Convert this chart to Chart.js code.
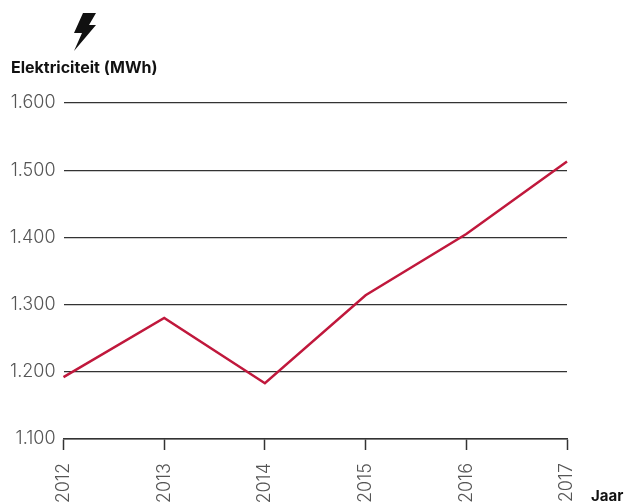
<!DOCTYPE html>
<html lang="nl">
<head>
<meta charset="utf-8">
<title>Elektriciteit</title>
<script src="https://cdn.jsdelivr.net/npm/chart.js@4/dist/chart.umd.min.js"></script>
<style>
html, body { margin: 0; padding: 0; background: #fff; overflow: hidden; }
#wrap { position: relative; width: 625px; height: 503px; }
canvas { position: absolute; left: 0; top: 0; }
.lbl { position: absolute; font: 700 15px Inter, sans-serif; color: #111; white-space: nowrap; }
#bolt { position: absolute; left: 73px; top: 12px; }
</style>
</head>
<body>
<div id="wrap">
    <canvas id="chart" width="625" height="503"></canvas>
    <svg id="bolt" width="25" height="40" viewBox="0 0 25 40">
        <path d="M10 1 L23 1 L16 13 L23 13 L1 39 L9 21 L1 21 Z" fill="#111"/>
    </svg>
    <div class="lbl" style="left:11px;top:57px;font-size:16px">Elektriciteit (MWh)</div>
    <div class="lbl" style="left:591px;top:486px">Jaar</div>
</div>
<script>
const years = ['2012', '2013', '2014', '2015', '2016', '2017'];
const elektriciteit = [1192, 1280, 1183, 1314, 1405, 1513];
const yMin = 1100;
const yMax = 1600;
const yStep = 100;

const axisColor = '#333333';
const tickColor = '#555555';
const tickFont = { family: 'Inter', size: 18, weight: '300' };

const ctx = document.getElementById('chart').getContext('2d');
new Chart(ctx, {
    type: 'line',
    data: {
        labels: years,
        datasets: [{
            data: elektriciteit,
            borderColor: '#c0183c',
            borderWidth: 2.5,
            pointRadius: 0,
            tension: 0,
            clip: false
        }]
    },
    options: {
        responsive: false,
        animation: false,
        layout: { padding: { top: 103, right: 58 } },
        plugins: { legend: { display: false }, tooltip: { enabled: false } },
        scales: {
            x: {
                offset: false,
                afterFit: s => { s.height = 64; },
                border: { color: axisColor, width: 1.5 },
                grid: { drawOnChartArea: false, color: axisColor, tickLength: 11, tickWidth: 1.5 },
                ticks: { color: tickColor, font: tickFont, minRotation: 90, maxRotation: 90, padding: 13, autoSkip: false }
            },
            y: {
                min: yMin,
                max: yMax,
                afterFit: s => { s.width = 63.5; },
                border: { display: false },
                grid: { color: axisColor, lineWidth: 1.2, drawTicks: false },
                ticks: {
                    stepSize: yStep,
                    color: tickColor,
                    font: tickFont,
                    padding: 8,
                    callback: v => v.toLocaleString('nl-NL')
                }
            }
        }
    }
});
</script>
</body>
</html>
